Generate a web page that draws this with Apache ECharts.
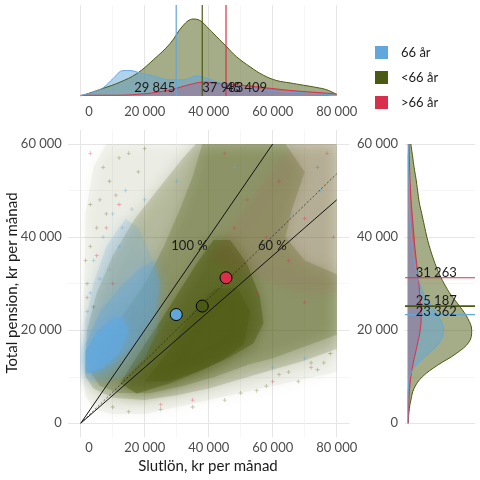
<!DOCTYPE html>
<html><head><meta charset="utf-8">
<script src="https://cdn.jsdelivr.net/npm/echarts@6/dist/echarts.min.js"></script>
<style>html,body{margin:0;padding:0;background:#fff}#c{width:480px;height:480px}</style>
</head><body><div id="c"></div><script>
// ---------- data ----------
const groups = ['66 år', '<66 år', '>66 år'];
const groupColors = ['#62a7dc', '#4b5a12', '#d8304a'];
// means (slutlön, total pension)
const meanWage = [29845, 37983, 45409];
const meanPension = [23362, 25187, 31263];
const meanWageLabels = ['29 845', '37 983', '45 409'];
const meanPensionLabels = ['23 362', '25 187', '31 263'];
// top marginal density (slutlön) — relative heights
const topBlueX = [0, 4000, 7100, 10200, 13300, 15400, 18500, 22700, 27900, 32100, 36300, 39400, 43500, 48700, 55000, 61300, 69600, 80000];
const topBlueD = [0.5, 5, 11, 23, 33, 33, 30, 26, 21, 21, 26, 23, 17, 13, 9, 6.5, 4, 1];
const topGreenX = [0, 2900, 7100, 12300, 17500, 22700, 27900, 32100, 35200, 37300, 39400, 42500, 45600, 48700, 52900, 57100, 61300, 65400, 69600, 73800, 76900, 80000];
const topGreenD = [0, 4, 10, 18, 29, 47, 68, 92, 100, 98, 90, 77, 64, 51, 38, 27, 20, 17, 14, 11, 8, 2];
const topRedX = [0, 10000, 20000, 27900, 34200, 38300, 42500, 46700, 52900, 59200, 67500, 75800, 80000];
const topRedD = [1, 1, 3, 8, 15, 18, 17, 15, 13, 10, 6.5, 4, 2.6];
// right marginal density (pension) at 0, 2500, ... 60000
const rightY = ['0','2500','5000','7500','10000','12500','15000','17500','20000','22500','25000','27500','30000','32500','35000','37500','40000','42500','45000','47500','50000','52500','55000','57500','60000'];
const rightBlueD = [0.3, 0.3, 0.4, 1, 3, 13, 33, 50, 56, 50, 38, 26, 19, 14, 10.5, 8, 6, 4.5, 3.5, 3, 2.5, 2, 1.5, 1.2, 1];
const rightGreenD = [1, 2, 5, 10, 23, 47, 76, 96, 100, 94, 82, 68, 57, 48, 41, 35, 30, 26, 22, 18, 15.5, 13, 10, 7.5, 5];
const rightRedD = [1, 1.3, 2, 3, 5, 8, 12, 16, 19.5, 21, 20.5, 19, 17.5, 15.5, 13.5, 11.5, 10, 8.5, 7, 5.5, 4.5, 3.5, 3, 2.5, 2];
// reference lines (replacement rate)
const refLineEnds = [[60000, 60000], [80000, 48000]];
const refLineLabels = ['100 %', '60 %'];
const refLabelPos = [[34000, 38100], [59900, 38100]];
const dottedLineEnd = [80000, 53600];
// point cloud drawn as density regions, vertices in thousand kr [slutlön, pension]
const greenHalo = [[1,9],[1,25],[1.5,45],[4,55],[8,60],[80,60],[80,11],[70,9.5],[60,8],[50,6.5],[40,5],[30,3.5],[20,2],[10,2],[4,3],[1.5,6]];
const greenMedium = [[1.5,11],[2,20],[5,28],[10,36],[17,44],[25,51],[32,57],[36,60],[80,60],[80,16],[70,13.5],[60,11.5],[50,9.5],[40,7.5],[30,6],[20,5],[10,5.5],[4,7.5],[1.5,10]];
const greenDense = [[3,11],[8,17],[14,24],[20,30],[26,38],[31,46],[35,53],[38,60],[64,60],[70,54],[66,46],[64,40],[70,35],[80,32],[80,19],[70,16.5],[60,14],[52,12.5],[42,10],[32,8],[22,6.5],[12,6.5],[6,8]];
const greenSolid = [[12.3,8.6],[19.6,16.5],[25.8,22.9],[31,28.6],[36.3,34.4],[41.5,39.4],[46.7,39.4],[51.9,34.4],[56,27.2],[57.1,21.5],[54,17.2],[46.7,14.3],[38.3,11.5],[27.9,8.6],[17.5,6.4]];
const greenCore = [[20,9],[28,16],[35,24],[42,29],[49,29],[53,24],[51,17],[44,13.5],[36,11],[27,9]];
const redTint = [[40,35],[50,45],[58,53],[66,60],[80,60],[80,28],[68,28],[56,31]];
const blueLight = [[1.5,10],[1.5,22],[4,30],[8,38],[14,44],[18,42],[22,36],[25,28],[24,20],[20,14],[14,10],[8,9],[3,9]];
const blueMedium = [[1.5,10.5],[1.5,17],[6,24],[12,29],[18,33],[23,35],[25,30],[23,23],[18,17.5],[11,13],[6,11]];
const blueDense = [[1.5,11],[1.5,15.5],[5,19.5],[9,22],[13,23],[15,20],[12,15],[7,12],[3,10.8]];
// a few individually visible sparse points (thousand kr)
const sparseGreen = [[3,38],[6,48],[2,30],[9,52],[12,57],[5,42],[15,58],[4,25],[8,45],[20,59],[58,8],[65,11],[72,13],[78,15],[62,10.5],[68,9],[55,7],[74,11.5],[45,5],[35,3.5],[25,3],[15,2.5],[10,3.5],[7,55],[11,49],[3,47],[18,54],[1.5,35],[50,6.5],[76,13]];
const sparseBlue = [[4,35],[7,40],[10,45],[14,50],[6,31],[12,38],[3,28],[16,46],[9,33],[20,48],[60,12],[70,14],[66,45],[75,50],[48,55],[30,52],[2,24],[13,42]];
const sparseRed = [[3,58],[8,42],[5,36],[12,47],[2,27],[60,9],[72,12],[79,40],[77,58],[65,35],[70,26],[35,5],[25,4],[10,30],[45,58],[55,28],[52,48],[62,52],[70,44],[58,40],[48,42],[74,55]];

// ---------- helpers ----------
const FONT = 'Lato';
const fmt = v => v === 0 ? '     0' : String(v).replace(/\B(?=(\d{3})+(?!\d))/g, ' ');
const fmtY = v => v === 0 ? '0' : String(v).replace(/\B(?=(\d{3})+(?!\d))/g, ' ');
const TOPMAX = 118.2, RMIN = -4.2, RMAX = 105.2;
const gridMajor = {show: true, lineStyle: {color: '#e6e6e6', width: 1}};
const gridMinor = {show: true, lineStyle: {color: '#f2f2f2', width: 0.7}};
const tickLabel = {color: '#4d4d4d', fontSize: 13, fontFamily: FONT};
function pairs(xs, ds) { return xs.map((x, i) => [x, ds[i]]); }

const OLIVE = '79,92,20', BLUE = '98,167,220', RED = '216,48,74';
const polys = [greenHalo, greenMedium, greenDense, greenSolid, greenCore, redTint, blueLight, blueMedium, blueDense];
const polyRGB = [OLIVE, OLIVE, OLIVE, OLIVE, OLIVE, RED, BLUE, BLUE, BLUE];
const polyAlpha = [0.055, 0.19, 0.22, 0.48, 0.5, 0.04, 0.17, 0.3, 0.72];

const series = [];
// --- top marginal densities (drawn green, red, blue)
const topData = [[topBlueX, topBlueD], [topGreenX, topGreenD], [topRedX, topRedD]];
[1, 2, 0].forEach(i => {
  const d = topData[i];
  series.push({type: 'line', name: groups[i], xAxisIndex: 0, yAxisIndex: 0, data: pairs(d[0], d[1]), smooth: 0.4,
    showSymbol: false, silent: true, color: groupColors[i],
    lineStyle: {color: groupColors[i], width: 1}, areaStyle: {color: groupColors[i], opacity: 0.5}});
});
meanWage.forEach((m, i) => {
  series.push({type: 'line', name: 'vline' + i, xAxisIndex: 0, yAxisIndex: 0, data: [[m, 0], [m, TOPMAX]], showSymbol: false, silent: true,
    lineStyle: {color: groupColors[i], width: 1.2}});
});
series.push({type: 'custom', name: 'toplabels', xAxisIndex: 0, yAxisIndex: 0, data: meanWage.map((m, i) => [m, 10.4, i]), silent: true, z: 10,
  renderItem: (p, api) => {
    const i = api.value(2); const pt = api.coord([api.value(0), api.value(1)]);
    return {type: 'text', x: pt[0] + (i === 0 ? -1 : 0), y: pt[1], style: {text: meanWageLabels[i], fill: '#1a1a1a', font: '13px ' + FONT,
      textAlign: i === 0 ? 'right' : 'left', textVerticalAlign: 'middle'}};
  }});
// --- main cloud
series.push({type: 'custom', name: 'cloud', xAxisIndex: 3, yAxisIndex: 3, data: polys.map((p, i) => [i]), silent: true, clip: true,
  renderItem: (p, api) => {
    const i = p.dataIndex;
    const pts = polys[i].map(v => api.coord([v[0] * 1000, v[1] * 1000]));
    return {type: 'polygon', shape: {points: pts},
      style: {fill: 'rgba(' + polyRGB[i] + ',' + polyAlpha[i] + ')', shadowBlur: 14, shadowColor: 'rgb(' + polyRGB[i] + ')'}};
  }});
const plusPath = 'path://M2,0H3V2H5V3H3V5H2V3H0V2H2Z';
[[sparseGreen, 'rgba(79,92,20,0.45)'], [sparseRed, 'rgba(216,48,74,0.5)'], [sparseBlue, 'rgba(98,167,220,0.6)']].forEach((s, i) => {
  series.push({type: 'scatter', name: 'sp' + i, xAxisIndex: 3, yAxisIndex: 3, data: s[0].map(v => [v[0] * 1000, v[1] * 1000]),
    symbol: plusPath, symbolSize: 4, itemStyle: {color: s[1]}, silent: true});
});
refLineEnds.forEach((e, i) => {
  series.push({type: 'line', name: 'ref' + i, xAxisIndex: 3, yAxisIndex: 3, data: [[0, 0], e], showSymbol: false, silent: true,
    lineStyle: {color: '#111', width: 1}, z: 5});
});
series.push({type: 'line', name: 'refdot', xAxisIndex: 3, yAxisIndex: 3, data: [[0, 0], dottedLineEnd], showSymbol: false, silent: true,
  lineStyle: {color: '#222', width: 0.7, type: [2, 2]}, z: 5});
meanWage.forEach((m, i) => {
  series.push({type: 'scatter', name: 'mean' + i, xAxisIndex: 3, yAxisIndex: 3, data: [[m, meanPension[i]]], symbolSize: 12, silent: true, z: 6,
    itemStyle: {color: groupColors[i], borderColor: '#000', borderWidth: 1, opacity: 1}});
});
series.push({type: 'custom', name: 'reflabels', xAxisIndex: 3, yAxisIndex: 3, data: refLabelPos.map((p, i) => [p[0], p[1], i]), silent: true, z: 7,
  renderItem: (p, api) => {
    const pt = api.coord([api.value(0), api.value(1)]);
    return {type: 'text', x: pt[0], y: pt[1], style: {text: refLineLabels[api.value(2)], fill: '#1a1a1a', font: '13px ' + FONT,
      textAlign: 'center', textVerticalAlign: 'middle'}};
  }});
// --- right marginal densities (drawn green, red, blue)
const rightData = [rightBlueD, rightGreenD, rightRedD];
[1, 2, 0].forEach(i => {
  series.push({type: 'line', name: 'r' + i, xAxisIndex: 4, yAxisIndex: 5, data: rightData[i], smooth: 0.4, showSymbol: false, silent: true,
    lineStyle: {color: groupColors[i], width: 1}, areaStyle: {color: groupColors[i], opacity: 0.5}});
});
meanPension.forEach((m, i) => {
  series.push({type: 'line', name: 'hline' + i, xAxisIndex: 4, yAxisIndex: 4, data: [[RMIN, m], [RMAX, m]], showSymbol: false, silent: true,
    lineStyle: {color: groupColors[i], width: i === 1 ? 1.8 : 1.2}, z: 5});
});
const rightLabelY = [23970, 26340, 32350];
series.push({type: 'custom', name: 'rlabels', xAxisIndex: 4, yAxisIndex: 4, data: meanPension.map((m, i) => [12.5, rightLabelY[i], i]), silent: true, z: 10,
  renderItem: (p, api) => {
    const pt = api.coord([api.value(0), api.value(1)]);
    return {type: 'text', x: pt[0], y: pt[1], style: {text: meanPensionLabels[api.value(2)], fill: '#1a1a1a', font: '13px ' + FONT,
      textAlign: 'left', textVerticalAlign: 'middle'}};
  }});

const hidden = {show: false};
const option = {
  animation: false,
  backgroundColor: '#fff',
  textStyle: {fontFamily: FONT},
  grid: [
    {left: 80.7, top: 5, width: 256, height: 91},
    {left: 80.7, top: 130, width: 256, height: 307.3},
    {left: 67.9, top: 144, width: 281.6, height: 279.3},
    {left: 80.7, top: 144, width: 256, height: 279.3},
    {left: 405, top: 144, width: 70, height: 279.3}
  ],
  xAxis: [
    {gridIndex: 0, type: 'value', min: 0, max: 80000, interval: 20000, axisLine: hidden, axisTick: hidden,
      axisLabel: Object.assign({formatter: fmt, margin: 9}, tickLabel), splitLine: gridMajor, minorTick: {show: false, splitNumber: 2}, minorSplitLine: gridMinor},
    {gridIndex: 1, type: 'value', min: 0, max: 80000, interval: 20000, axisLine: hidden, axisTick: hidden,
      axisLabel: Object.assign({formatter: fmt, margin: 4}, tickLabel), splitLine: gridMajor, minorTick: {show: false, splitNumber: 2}, minorSplitLine: gridMinor},
    {gridIndex: 2, type: 'value', min: 0, max: 1, show: false},
    {gridIndex: 3, type: 'value', min: 0, max: 80000, show: false},
    {gridIndex: 4, type: 'value', min: RMIN, max: RMAX, show: false}
  ],
  yAxis: [
    {gridIndex: 0, type: 'value', min: 0, max: TOPMAX, show: false},
    {gridIndex: 1, type: 'value', min: 0, max: 1, show: false},
    {gridIndex: 2, type: 'value', min: 0, max: 60000, interval: 20000, axisLine: hidden, axisTick: hidden,
      axisLabel: Object.assign({formatter: fmtY, margin: 6}, tickLabel), splitLine: gridMajor, minorTick: {show: false, splitNumber: 2}, minorSplitLine: gridMinor},
    {gridIndex: 3, type: 'value', min: 0, max: 60000, show: false},
    {gridIndex: 4, type: 'value', min: 0, max: 60000, interval: 20000, axisLine: hidden, axisTick: hidden,
      axisLabel: Object.assign({formatter: fmtY, margin: 7}, tickLabel), splitLine: gridMajor, minorTick: {show: false, splitNumber: 2}, minorSplitLine: gridMinor},
    {gridIndex: 4, type: 'category', data: rightY, boundaryGap: false, show: false}
  ],
  legend: {
    orient: 'vertical', left: 370, top: 41, itemWidth: 13, itemHeight: 13, itemGap: 12, icon: 'rect',
    data: groups.map((g, i) => ({name: g, icon: 'rect', itemStyle: {color: groupColors[i], borderWidth: 0}})),
    textStyle: {fontSize: 13, color: '#1a1a1a', fontFamily: FONT, padding: [0, 0, 0, 8]},
    selectedMode: false
  },
  graphic: [
    {type: 'text', x: 208, y: 466, style: {text: 'Slutlön, kr per månad', fill: '#1a1a1a', font: '15px ' + FONT, textAlign: 'center', textVerticalAlign: 'middle'}},
    {type: 'text', x: 12, y: 283, rotation: Math.PI / 2, style: {text: 'Total pension, kr per månad', fill: '#1a1a1a', font: '15px ' + FONT, textAlign: 'center', textVerticalAlign: 'middle'}}
  ],
  series: series
};
const chart = echarts.init(document.getElementById('c'), null, {renderer: 'canvas'});
chart.setOption(option);
</script></body></html>
